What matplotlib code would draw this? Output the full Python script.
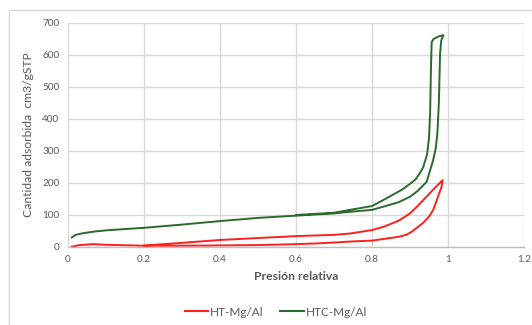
import matplotlib
matplotlib.use("Agg")
import matplotlib.pyplot as plt
from matplotlib.lines import Line2D

# HT-Mg/Al (red) adsorption / desorption branches
ht_ads_x = [0.01, 0.03, 0.067, 0.1, 0.2, 0.3, 0.4, 0.5, 0.6, 0.65, 0.7, 0.742, 0.8, 0.83, 0.87,
            0.89, 0.905, 0.918, 0.935, 0.95, 0.961, 0.97, 0.976, 0.983, 0.986]
ht_ads_y = [1, 6, 9, 7, 4, 4, 5, 6, 9, 11, 14, 17, 20, 25, 32, 38, 48, 60, 76, 95, 116, 145, 165,
            188, 209]
ht_des_x = [0.986, 0.975, 0.96, 0.944, 0.92, 0.9, 0.87, 0.83, 0.8, 0.742, 0.7, 0.6,
            0.5, 0.4, 0.3, 0.24, 0.2]
ht_des_y = [209, 196, 178, 158, 128, 105, 82, 63, 53, 42, 38, 34, 28, 22, 13, 8, 4]

# HTC-Mg/Al (green) adsorption / desorption branches
htc_ads_x = [0.01, 0.02, 0.04, 0.067, 0.1, 0.15, 0.2, 0.3, 0.4, 0.5, 0.6, 0.7, 0.742, 0.8, 0.83,
             0.87, 0.9, 0.92, 0.944, 0.961, 0.968, 0.972, 0.976, 0.979, 0.982, 0.988]
htc_ads_y = [30, 38, 43, 48, 52, 56, 60, 70, 81, 91, 98, 105, 110, 116, 126, 140, 157, 175, 204,
             272, 310, 355, 450, 600, 645, 662]
htc_des_x = [0.988, 0.975, 0.962, 0.957, 0.955, 0.953, 0.95, 0.945, 0.935, 0.926, 0.915, 0.904,
             0.88, 0.85, 0.83, 0.8, 0.742, 0.7, 0.6]
htc_des_y = [662, 658, 650, 640, 550, 420, 340, 290, 250, 231, 212, 201, 180, 160, 147, 128, 116,
             107, 100]

x_ticks = [0, 0.2, 0.4, 0.6, 0.8, 1, 1.2]
x_tick_labels = ["0", "0.2", "0.4", "0.6", "0.8", "1", "1.2"]
y_ticks = [0, 100, 200, 300, 400, 500, 600, 700]

RED = "#ff1f1f"
GREEN = "#2a6a2c"
GRAY = "#595959"
FONT = ["Lato", "DejaVu Sans"]

fig = plt.figure(figsize=(5.32, 3.25), dpi=100)
ax = fig.add_axes([68 / 532, 1 - 247 / 325, (524 - 68) / 532, (247 - 23) / 325])

ax.plot(ht_ads_x + ht_des_x, ht_ads_y + ht_des_y, color=RED, lw=1.4, solid_joinstyle="round")
ax.plot(htc_ads_x + htc_des_x, htc_ads_y + htc_des_y, color=GREEN, lw=1.4, solid_joinstyle="round")

ax.set_xlim(0, 1.2)
ax.set_ylim(0, 700)
ax.set_xticks(x_ticks)
ax.set_xticklabels(x_tick_labels)
ax.set_yticks(y_ticks)
ax.grid(True, color="#d9d9d9", lw=1.0)
ax.set_axisbelow(True)
for s in ["top", "right", "left"]:
    ax.spines[s].set_visible(False)
ax.spines["bottom"].set_color("#bfbfbf")
ax.spines["bottom"].set_linewidth(1.0)
ax.tick_params(length=0, colors=GRAY, labelsize=7.2, pad=6)
for lab in ax.get_xticklabels() + ax.get_yticklabels():
    lab.set_family(FONT)

ax.set_xlabel("Presión relativa", fontsize=8.7, color=GRAY, fontweight="bold",
              family=FONT, labelpad=5)
ax.set_ylabel("Cantidad adsorbida  cm3/gSTP", fontsize=8.7, color=GRAY, family=FONT,
              labelpad=6)

handles = [Line2D([0], [0], color=RED, lw=1.5), Line2D([0], [0], color=GREEN, lw=1.5)]
leg = fig.legend(handles, ["HT-Mg/Al", "HTC-Mg/Al"], loc="center", ncol=2,
                 bbox_to_anchor=(276 / 532, 1 - 312 / 325), frameon=False,
                 handlelength=2.0, handletextpad=0.15, columnspacing=1.4,
                 prop={"family": FONT, "size": 8.5})
for t in leg.get_texts():
    t.set_color(GRAY)

# outer chart-area frame (top and left edges visible)
fig.add_artist(Line2D([9 / 532, 1], [1 - 10 / 325, 1 - 10 / 325], transform=fig.transFigure,
                      color="#d9d9d9", lw=1.0))
fig.add_artist(Line2D([9 / 532, 9 / 532], [0, 1 - 10 / 325], transform=fig.transFigure,
                      color="#d9d9d9", lw=1.0))

fig.savefig("out.png", dpi=100)
